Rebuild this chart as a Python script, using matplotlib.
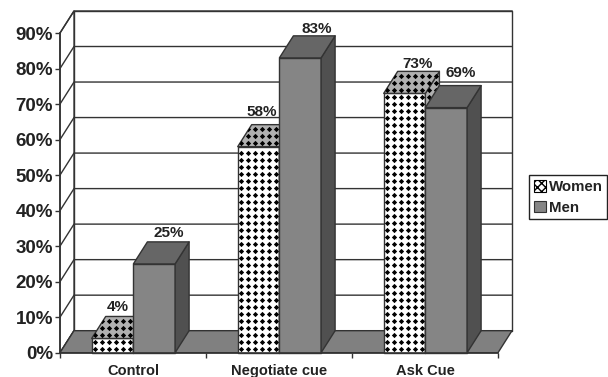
import numpy as np
import matplotlib
matplotlib.use('Agg')
import matplotlib.pyplot as plt
from matplotlib.patches import Polygon, Patch

plt.rcParams['font.family'] = ['Liberation Sans', 'DejaVu Sans']
plt.rcParams['hatch.linewidth'] = 1.0

categories = ['Control', 'Negotiate cue', 'Ask Cue']
women = [4, 58, 73]
men = [25, 83, 69]
y_ticks = [0, 10, 20, 30, 40, 50, 60, 70, 80, 90]

# depth of the fake 3D box, in axis units
dx = 14 / 146
dy = 22 / 3.55
bar_w = 41.7 / 146
gap = 31.7 / 146

edge = '#333333'
lw = 1.0

fig = plt.figure(figsize=(6.08, 3.77), dpi=100)
ax = fig.add_axes([60 / 608, (377 - 352.7) / 377, 438 / 608, 319.7 / 377])
ax.set_xlim(0, 3)
ax.set_ylim(0, 90)


def face(points, color, z):
    p = Polygon(points, closed=True, facecolor=color, edgecolor=edge, linewidth=lw,
                zorder=z, clip_on=False, joinstyle='round')
    ax.add_patch(p)
    return p


def diamonds(patch, x0, x1, y0, y1, z):
    # black diamond pattern, clipped to the face it sits on
    xs = np.arange(x0 + 3.5 / 146, x1, 7 / 146)
    ys = np.arange(y0 + 1.0, y1, 7 / 3.55)
    gx, gy = np.meshgrid(xs, ys)
    line, = ax.plot(gx.ravel(), gy.ravel(), ls='none', marker='D', ms=2.7, mfc='black',
                    mec='black', mew=0, zorder=z, clip_on=True)
    line.set_clip_path(patch)


# back wall and left wall
face([(dx, dy), (3 + dx, dy), (3 + dx, 90 + dy), (dx, 90 + dy)], 'white', 1)
face([(0, 0), (dx, dy), (dx, 90 + dy), (0, 90)], 'white', 1)
for t in y_ticks:
    ax.plot([0, dx, 3 + dx], [t, t + dy, t + dy], color=edge, lw=lw, zorder=2, clip_on=False)

# floor
face([(0, 0), (3, 0), (3 + dx, dy), (dx, dy)], '#808080', 3)

z = 4
for i in range(len(categories)):
    x0 = i + gap
    # women bar, patterned
    h = women[i]
    x1 = x0 + bar_w
    front = face([(x0, 0), (x1, 0), (x1, h), (x0, h)], 'white', z)
    diamonds(front, x0, x1, 0, h, z + 0.5)
    side = face([(x1, 0), (x1 + dx, dy), (x1 + dx, h + dy), (x1, h)], '#b0b0b0', z)
    diamonds(side, x1, x1 + dx, 0, h + dy, z + 0.5)
    top = face([(x0, h), (x1, h), (x1 + dx, h + dy), (x0 + dx, h + dy)], '#b0b0b0', z)
    diamonds(top, x0, x1 + dx, h, h + dy, z + 0.5)
    # men bar, plain grey
    h = men[i]
    x2 = x1 + bar_w
    face([(x1, 0), (x2, 0), (x2, h), (x1, h)], '#858585', z + 1)
    face([(x2, 0), (x2 + dx, dy), (x2 + dx, h + dy), (x2, h)], '#505050', z + 1)
    face([(x1, h), (x2, h), (x2 + dx, h + dy), (x1 + dx, h + dy)], '#666666', z + 1)
    z += 2

# value labels sit above the back edge of each bar top, nudged clear of neighbours
w_shift = [(-9, 2), (-11, 6), (-1, 0)]
m_shift = [(0, 2), (2, 0), (0, 6)]
for i in range(len(categories)):
    xw = i + gap + bar_w / 2 + dx
    xm = xw + bar_w
    ax.annotate(f'{women[i]}%', (xw, women[i] + dy), xytext=w_shift[i], textcoords='offset pixels',
                ha='center', va='bottom', fontsize=11, fontweight='bold', color='#222222',
                annotation_clip=False, zorder=30)
    ax.annotate(f'{men[i]}%', (xm, men[i] + dy), xytext=m_shift[i], textcoords='offset pixels',
                ha='center', va='bottom', fontsize=11, fontweight='bold', color='#222222',
                annotation_clip=False, zorder=30)

ax.set_yticks(y_ticks)
ax.set_yticklabels([f'{t}%' for t in y_ticks], fontsize=13.5, fontweight='bold', color='#222222')
ax.set_xticks([0, 1, 2, 3])
ax.set_xticklabels([])
ax.set_xticks([0.5, 1.5, 2.5], minor=True)
ax.set_xticklabels(categories, minor=True, fontsize=10.5, fontweight='bold', color='#222222')
ax.tick_params(axis='x', which='minor', length=0, pad=8)
ax.tick_params(axis='both', which='major', length=3.5, width=lw, color=edge, pad=1.5)
for s in ['top', 'right']:
    ax.spines[s].set_visible(False)
for s in ['left', 'bottom']:
    ax.spines[s].set_color(edge)
    ax.spines[s].set_linewidth(1.2)
    ax.spines[s].set_zorder(25)

handles = [Patch(facecolor='white', edgecolor='black', hatch='XXXX', linewidth=0.8),
           Patch(facecolor='#858585', edgecolor=edge, linewidth=0.8)]
fig.legend(handles, ['Women', 'Men'], loc='upper left', bbox_to_anchor=(529 / 608, 1 - 175.5 / 377),
           borderaxespad=0, frameon=True, fancybox=False, edgecolor='#222222', framealpha=1,
           prop={'size': 10.8, 'weight': 'bold'}, handlelength=0.8, handleheight=0.8,
           handletextpad=0.2, labelspacing=0.45, borderpad=0.3, labelcolor='#222222')

fig.savefig('out.png', dpi=100)
